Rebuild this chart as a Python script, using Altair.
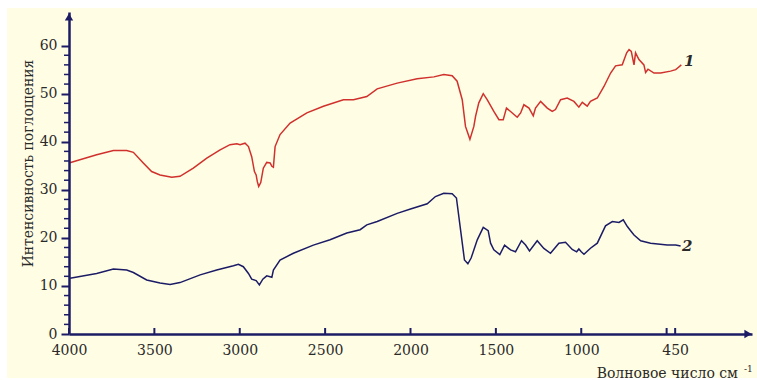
import altair as alt
import pandas as pd

# IR spectra: wavenumber (cm^-1) and absorption intensity for samples 1 and 2
wn1 = [4000, 3838, 3740, 3662, 3623, 3565, 3516, 3467, 3398, 3350, 3272, 3193, 3115, 3057,
       3017, 2998, 2969, 2949, 2930, 2914, 2904, 2897, 2889, 2877, 2862, 2842, 2822, 2812,
       2803, 2793, 2764, 2705, 2607, 2510, 2393, 2334, 2256, 2195, 2078, 1961, 1863, 1805,
       1756, 1727, 1697, 1678, 1652, 1629, 1619, 1600, 1574, 1551, 1512, 1482, 1457, 1449,
       1438, 1414, 1375, 1355, 1336, 1306, 1281, 1268, 1238, 1199, 1170, 1151, 1121, 1082,
       1043, 1014, 994, 965, 946, 906, 867, 828, 799, 760, 734, 720, 707, 691, 682, 662,
       633, 623, 609, 574, 535, 477, 447, 437, 414]
ab1 = [35.6, 37.3, 38.2, 38.2, 37.8, 35.6, 33.8, 33.1, 32.6, 32.8, 34.5, 36.6, 38.3, 39.4,
       39.6, 39.4, 39.7, 39.0, 36.9, 33.8, 33.1, 31.7, 30.7, 31.5, 34.5, 35.7, 35.6, 34.9,
       34.7, 39.0, 41.5, 43.9, 46.0, 47.4, 48.75, 48.75, 49.4, 51.0, 52.2, 53.1, 53.5, 54.0,
       53.75, 52.6, 48.75, 43.2, 40.5, 43.2, 45.3, 48.1, 50.0, 48.75, 46.3, 44.6, 44.6, 45.6,
       47.0, 46.3, 45.1, 46.0, 47.7, 47.0, 45.4, 47.0, 48.4, 47.0, 46.3, 46.7, 48.75, 49.1,
       48.4, 47.2, 48.2, 47.4, 48.4, 49.1, 51.5, 54.3, 55.8, 56.0, 58.5, 59.2, 58.8, 56.0,
       58.5, 57.1, 56.0, 54.4, 55.1, 54.3, 54.3, 54.7, 55.0, 55.3, 56.0]

wn2 = [3994, 3838, 3740, 3662, 3623, 3545, 3467, 3408, 3350, 3232, 3135, 3037, 3008, 2979,
       2949, 2930, 2904, 2885, 2865, 2842, 2812, 2803, 2764, 2686, 2569, 2471, 2373, 2295,
       2256, 2195, 2078, 2000, 1902, 1854, 1805, 1756, 1731, 1707, 1684, 1664, 1645, 1609,
       1574, 1545, 1531, 1512, 1477, 1449, 1414, 1385, 1350, 1326, 1303, 1258, 1219, 1180,
       1131, 1092, 1053, 1027, 1014, 1000, 984, 946, 906, 858, 818, 779, 754, 730, 711, 691,
       652, 594, 496, 447, 418]
ab2 = [11.6, 12.6, 13.5, 13.3, 12.8, 11.25, 10.6, 10.3, 10.7, 12.3, 13.3, 14.2, 14.5, 14.0,
       12.6, 11.4, 11.1, 10.2, 11.4, 12.1, 11.8, 13.3, 15.4, 16.8, 18.5, 19.6, 21.0, 21.7,
       22.7, 23.4, 25.1, 26.0, 27.1, 28.6, 29.3, 29.2, 28.3, 21.7, 15.4, 14.6, 15.8, 19.6,
       22.2, 21.5, 18.9, 17.5, 16.5, 18.5, 17.5, 17.1, 19.4, 18.5, 17.3, 19.4, 17.8, 16.8,
       18.9, 19.1, 17.6, 17.1, 17.7, 17.1, 16.6, 17.85, 18.9, 22.5, 23.4, 23.2, 23.75, 22.35,
       21.5, 20.6, 19.4, 18.9, 18.5, 18.5, 18.3]

# curve numbers written at the right-hand end of each spectrum
curve_names = ["1", "2"]
curve_label_wn = [367, 379]
curve_label_ab = [56.8, 18.3]

x_tick_values = [4000, 3500, 3000, 2500, 2000, 1500, 1000, 500, 450]
x_label_values = [4000, 3500, 3000, 2500, 2000, 1500, 1000, 450]
y_major = [0, 10, 20, 30, 40, 50, 60]
y_minor = [v for v in range(2, 60, 2) if v % 10]

y_title = "Интенсивность поглощения"
x_title = "Волновое число см"
x_title_sup = "-1"

W, H = 683, 322
SERIF = "DejaVu Serif"
SERIF_NARROW = "DejaVu Serif Condensed"
NAVY = "#1c1c66"
RED = "#d0312d"
CREAM = "#fffde4"
TEXT = "#2a2a2a"

x_scale = alt.Scale(domain=[0, 4000], reverse=True, nice=False, zero=False)
y_scale = alt.Scale(domain=[0, 67], nice=False, zero=False)

spectra = pd.DataFrame({
    "wn": wn1 + wn2,
    "ab": ab1 + ab2,
    "curve": ["1"] * len(wn1) + ["2"] * len(wn2),
})

one_row = pd.DataFrame({"a": [0]})

panel = alt.Chart(one_row).mark_rect(color=CREAM).encode(
    x=alt.value(-62), x2=alt.value(W + 5), y=alt.value(-4), y2=alt.value(366)
)

lines = alt.Chart(spectra).mark_line(strokeWidth=1.5).encode(
    x=alt.X("wn:Q", scale=x_scale, title=None,
            axis=alt.Axis(values=x_label_values, format="d", ticks=False, labelPadding=9,
                          domainColor=NAVY, domainWidth=2.5, grid=False, zindex=1,
                          labelFont=SERIF, labelFontSize=14, labelColor=TEXT,
                          labelFlush=False, labelOverlap=False)),
    y=alt.Y("ab:Q", scale=y_scale,
            axis=alt.Axis(values=y_major, format="d", tickSize=8, tickWidth=2,
                          tickColor=NAVY, labelPadding=4, domainColor=NAVY,
                          domainWidth=2.5, grid=False, zindex=1,
                          labelFont=SERIF, labelFontSize=14, labelColor=TEXT,
                          labelFlush=False, title=y_title, titleFont=SERIF_NARROW,
                          titleFontSize=15.5, titleFontWeight="normal", titleColor=TEXT,
                          titleAngle=-90, titleX=-42, titleY=151, titleAlign="center",
                          titleBaseline="middle")),
    color=alt.Color("curve:N", scale=alt.Scale(domain=curve_names, range=[RED, NAVY]),
                    legend=None),
)

x_ticks = alt.Chart(pd.DataFrame({"wn": x_tick_values})).mark_rule(
    color=NAVY, strokeWidth=2
).encode(x=alt.X("wn:Q", scale=x_scale), y=alt.value(H), y2=alt.value(H - 6))

y_ticks = alt.Chart(pd.DataFrame({"ab": y_minor})).mark_rule(
    color=NAVY, strokeWidth=1.5
).encode(y=alt.Y("ab:Q", scale=y_scale), x=alt.value(-5), x2=alt.value(0))

arrow_up = alt.Chart(one_row).mark_point(
    shape="triangle-up", filled=True, opacity=1, color=NAVY, size=70
).encode(x=alt.value(0), y=alt.value(5))

arrow_right = alt.Chart(one_row).mark_point(
    shape="triangle-right", filled=True, opacity=1, color=NAVY, size=70
).encode(x=alt.value(W - 4), y=alt.value(H))

curve_labels = alt.Chart(pd.DataFrame({"wn": curve_label_wn, "ab": curve_label_ab,
                                       "name": curve_names})).mark_text(
    font=SERIF, fontSize=15, fontStyle="italic", fontWeight="bold", color=TEXT,
    align="center", baseline="middle"
).encode(x=alt.X("wn:Q", scale=x_scale), y=alt.Y("ab:Q", scale=y_scale), text="name:N")

x_name = alt.Chart(pd.DataFrame({"t": [x_title]})).mark_text(
    font=SERIF, fontSize=14, color=TEXT, align="right", baseline="alphabetic"
).encode(x=alt.value(669), y=alt.value(366), text="t:N")

x_name_sup = alt.Chart(pd.DataFrame({"t": [x_title_sup]})).mark_text(
    font=SERIF, fontSize=9, color=TEXT, align="left", baseline="alphabetic"
).encode(x=alt.value(675), y=alt.value(360), text="t:N")

chart = alt.layer(
    panel, lines, x_ticks, y_ticks, arrow_up, arrow_right, curve_labels, x_name, x_name_sup
).properties(
    width=W, height=H,
    autosize=alt.AutoSizeParams(type="none"),
    padding={"left": 69, "top": 12, "right": 5, "bottom": 46},
    background="white",
).configure_view(stroke=None)

chart.save("out.html", embed_options={"renderer": "svg", "actions": False})
